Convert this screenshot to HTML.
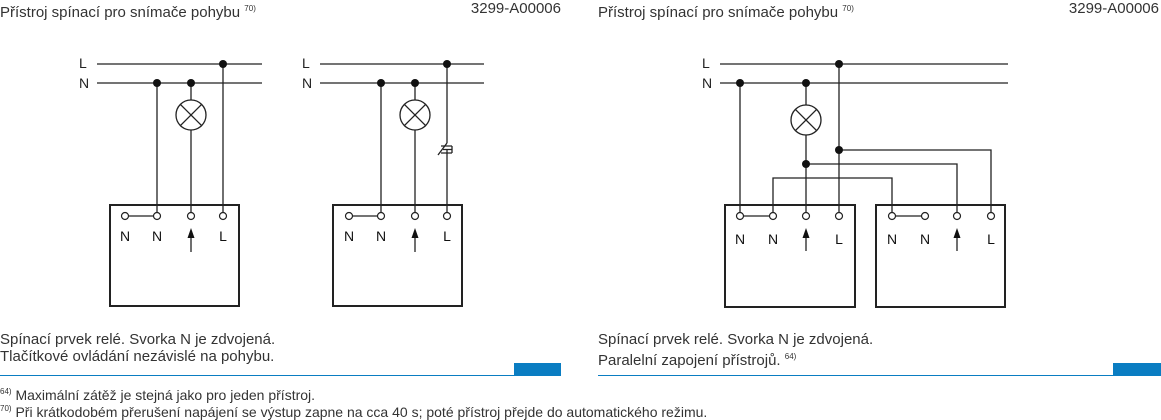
<!DOCTYPE html>
<html><head><meta charset="utf-8"><style>
body{margin:0;width:1161px;height:420px;background:#fff;position:relative;overflow:hidden;font-family:"Liberation Sans",sans-serif;color:#333}
.t{position:absolute;font-size:15px;white-space:nowrap;line-height:17px}
.f{position:absolute;font-size:14px;white-space:nowrap;line-height:16px}
sup{font-size:8px;vertical-align:6px}
svg{position:absolute;left:0;top:0}
</style></head><body>
<div class="t" style="left:0;top:0">Přístroj spínací pro snímače pohybu <sup>70)</sup></div>
<div class="t" style="right:600px;top:0">3299-A00006</div>
<div class="t" style="left:598px;top:0">Přístroj spínací pro snímače pohybu <sup>70)</sup></div>
<div class="t" style="right:2px;top:0">3299-A00006</div>
<div class="t" style="left:0;top:331px">Spínací prvek relé. Svorka N je zdvojená.</div>
<div class="t" style="left:0;top:348px">Tlačítkové ovládání nezávislé na pohybu.</div>
<div class="t" style="left:598px;top:331px">Spínací prvek relé. Svorka N je zdvojená.</div>
<div class="t" style="left:598px;top:348px">Paralelní zapojení přístrojů. <sup>64)</sup></div>
<div class="f" style="left:0;top:384px"><sup>64)</sup> Maximální zátěž je stejná jako pro jeden přístroj.</div>
<div class="f" style="left:0;top:401px"><sup>70)</sup> Při krátkodobém přerušení napájení se výstup zapne na cca 40 s; poté přístroj přejde do automatického režimu.</div>
<svg width="1161" height="420" viewBox="0 0 1161 420" font-family="Liberation Sans, sans-serif" font-size="14">
<rect x="514" y="363" width="47" height="13" fill="#0a7dc2"/>
<rect x="1113" y="363" width="48" height="13" fill="#0a7dc2"/>
<line x1="0" y1="375.5" x2="514" y2="375.5" stroke="#0a7dc2"/>
<line x1="598" y1="375.5" x2="1113" y2="375.5" stroke="#0a7dc2"/>
<g fill="#222">
<text x="79" y="68">L</text><text x="79" y="88">N</text>
<text x="302" y="68">L</text><text x="302" y="88">N</text>
<text x="702" y="68">L</text><text x="702" y="88">N</text>
</g>
<g stroke="#222" stroke-width="1.3" fill="none">
<line x1="97" y1="64" x2="262" y2="64"/><line x1="97" y1="83" x2="262" y2="83"/>
<line x1="157" y1="83" x2="157" y2="212"/><line x1="191" y1="83" x2="191" y2="100"/><line x1="191" y1="130" x2="191" y2="212"/><line x1="223" y1="64" x2="223" y2="212"/>
<circle cx="191" cy="115" r="15"/><line x1="180.4" y1="104.4" x2="201.6" y2="125.6"/><line x1="201.6" y1="104.4" x2="180.4" y2="125.6"/>
<rect x="110" y="205" width="129" height="101" stroke-width="2"/>
<line x1="320" y1="64" x2="484" y2="64"/><line x1="320" y1="83" x2="484" y2="83"/>
<line x1="381" y1="83" x2="381" y2="212"/><line x1="415" y1="83" x2="415" y2="100"/><line x1="415" y1="130" x2="415" y2="212"/>
<line x1="447" y1="64" x2="447" y2="143"/><line x1="447" y1="143" x2="438" y2="155"/><line x1="447" y1="150" x2="447" y2="212"/>
<path d="M441 146 H452 M443 149.5 H452 M441 153 H452 M452 146 V153"/>
<circle cx="415" cy="115" r="15"/><line x1="404.4" y1="104.4" x2="425.6" y2="125.6"/><line x1="425.6" y1="104.4" x2="404.4" y2="125.6"/>
<rect x="333" y="205" width="129" height="101" stroke-width="2"/>
<line x1="720" y1="64" x2="1008" y2="64"/><line x1="720" y1="83" x2="1008" y2="83"/>
<line x1="740" y1="83" x2="740" y2="212"/>
<line x1="806" y1="83" x2="806" y2="105"/><line x1="806" y1="135" x2="806" y2="212"/>
<line x1="839" y1="64" x2="839" y2="212"/>
<circle cx="806" cy="120" r="15"/><line x1="795.4" y1="109.4" x2="816.6" y2="130.6"/><line x1="816.6" y1="109.4" x2="795.4" y2="130.6"/>
<polyline points="839,150 991,150 991,212"/>
<polyline points="806,164 957,164 957,212"/>
<polyline points="773,212 773,178 892,178 892,212"/>
<rect x="725" y="205" width="130" height="102" stroke-width="2"/>
<rect x="876" y="205" width="129" height="102" stroke-width="2"/>
<line x1="125" y1="216" x2="157" y2="216"/><line x1="349" y1="216" x2="381" y2="216"/>
<line x1="740" y1="216" x2="773" y2="216"/><line x1="892" y1="216" x2="925" y2="216"/>
<line x1="191" y1="252" x2="191" y2="234"/><line x1="415" y1="252" x2="415" y2="234"/>
<line x1="806" y1="251" x2="806" y2="234"/><line x1="957" y1="251" x2="957" y2="234"/>
</g>
<g fill="#fff" stroke="#222" stroke-width="1.2">
<circle cx="125" cy="216" r="3.5"/><circle cx="157" cy="216" r="3.5"/><circle cx="191" cy="216" r="3.5"/><circle cx="223" cy="216" r="3.5"/>
<circle cx="349" cy="216" r="3.5"/><circle cx="381" cy="216" r="3.5"/><circle cx="415" cy="216" r="3.5"/><circle cx="447" cy="216" r="3.5"/>
<circle cx="740" cy="216" r="3.5"/><circle cx="773" cy="216" r="3.5"/><circle cx="806" cy="216" r="3.5"/><circle cx="839" cy="216" r="3.5"/>
<circle cx="892" cy="216" r="3.5"/><circle cx="925" cy="216" r="3.5"/><circle cx="957" cy="216" r="3.5"/><circle cx="991" cy="216" r="3.5"/>
</g>
<g fill="#111">
<circle cx="223" cy="64" r="4"/><circle cx="157" cy="83" r="4"/><circle cx="191" cy="83" r="4"/>
<circle cx="447" cy="64" r="4"/><circle cx="381" cy="83" r="4"/><circle cx="415" cy="83" r="4"/>
<circle cx="839" cy="64" r="4"/><circle cx="740" cy="83" r="4"/><circle cx="806" cy="83" r="4"/><circle cx="839" cy="150" r="4"/><circle cx="806" cy="164" r="4"/>
<path d="M191 228 l-3.5 10 h7z"/><path d="M415 228 l-3.5 10 h7z"/><path d="M806 228 l-3.5 10 h7z"/><path d="M957 228 l-3.5 10 h7z"/>
<g text-anchor="middle">
<text x="125" y="241">N</text><text x="157" y="241">N</text><text x="223" y="241">L</text>
<text x="349" y="241">N</text><text x="381" y="241">N</text><text x="447" y="241">L</text>
<text x="740" y="244">N</text><text x="773" y="244">N</text><text x="839" y="244">L</text>
<text x="892" y="244">N</text><text x="925" y="244">N</text><text x="991" y="244">L</text>
</g>
</g>
</svg>
</body></html>
